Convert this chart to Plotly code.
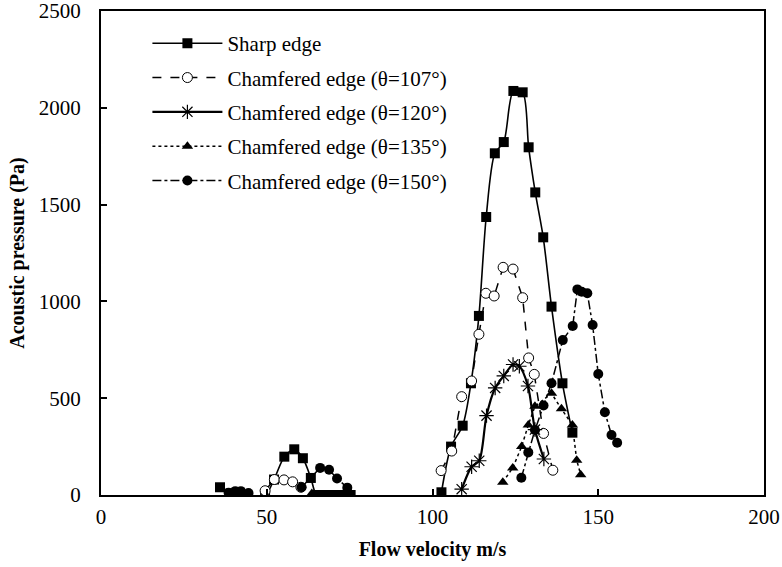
import plotly.graph_objects as go

# ---- data ----
sharp_x = [35.9, 39.0, 41.8, 49.5, 52.2, 55.3, 58.3, 60.9, 63.3, 65.0, 67.0, 69.0, 71.0, 73.0, 75.3,
           None,
           102.7, 105.6, 109.1, 111.6, 114.0, 116.2, 118.8, 121.5, 124.4, 127.2, 129.0, 131.0, 133.4,
           135.9, 139.2, 142.2]
sharp_y = [40, 8, 0, 0, 80, 198, 236, 190, 88, 0, 0, 0, 0, 0, 0,
           None,
           14, 250, 358, 577, 925, 1436, 1765, 1823, 2087, 2080, 1796, 1563, 1331,
           973, 577, 322]

c107_x = [49.5, 52.3, 55.2, 57.8, 60.3,
          None,
          102.6, 105.8, 108.8, 111.8, 114.0, 116.1, 118.6, 121.3, 124.3, 127.2, 129.0, 130.7,
          133.5, 136.3]
c107_y = [22, 80, 78, 68, 40,
          None,
          126, 227, 508, 589, 830, 1042, 1028, 1176, 1167, 1019, 708, 623,
          318, 128]

c120_x = [108.8, 111.8, 114.1, 116.3, 118.9, 121.5, 124.3, 126.2, 128.8, 130.9, 133.6]
c120_y = [30, 146, 177, 410, 553, 615, 674, 665, 563, 338, 186]

c135_x = [63.6,
          None,
          121.2, 124.2, 126.9, 128.9, 130.9, 135.9, 138.9, 142.2, 143.5, 144.7]
c135_y = [8,
          None,
          66, 140, 250, 362, 458, 525, 445, 362, 180, 105]

c150_x = [38.5, 40.5, 42.2, 44.5,
          None,
          60.5, 66.1, 68.8, 71.2, 74.3,
          None,
          126.8, 128.9, 130.9, 133.5, 135.9, 139.3, 142.3, 143.7, 145.0, 146.7, 148.3, 150.0,
          152.0, 154.0, 155.7]
c150_y = [12, 20, 20, 10,
          None,
          40, 140, 130, 85, 38,
          None,
          89, 220, 336, 462, 577, 800, 873, 1062, 1050, 1042, 878, 625,
          427, 310, 270]

names = ["Sharp edge",
         "Chamfered edge (θ=107°)",
         "Chamfered edge (θ=120°)",
         "Chamfered edge (θ=135°)",
         "Chamfered edge (θ=150°)"]

x_ticks = [0, 50, 100, 150, 200]
y_ticks = [0, 500, 1000, 1500, 2000, 2500]

FONT = "Liberation Serif"

fig = go.Figure()

fig.add_trace(go.Scatter(
    x=sharp_x, y=sharp_y, name=names[0], legendgroup="g1", mode="lines+markers",
    line=dict(color="black", width=1.6, shape="spline", smoothing=0.8),
    marker=dict(symbol="square", size=10, color="black"), connectgaps=False))

fig.add_trace(go.Scatter(
    x=c107_x, y=c107_y, name=names[1], legendgroup="g2", mode="lines+markers",
    line=dict(color="black", width=1.5, dash="dash"),
    marker=dict(symbol="circle", size=10, color="white", line=dict(color="black", width=1)),
    connectgaps=False))

fig.add_trace(go.Scatter(
    x=c120_x, y=c120_y, name=names[2], legendgroup="g3", mode="lines+markers",
    line=dict(color="black", width=2.2, shape="spline", smoothing=0.8),
    marker=dict(symbol="asterisk-open", size=12, color="black", line=dict(color="black", width=1.2))))

fig.add_trace(go.Scatter(
    x=c135_x, y=c135_y, name=names[3], legendgroup="g4", mode="lines+markers",
    line=dict(color="black", width=1.5, dash="dot"),
    marker=dict(symbol="triangle-up", size=10, color="black"), connectgaps=False))

fig.add_trace(go.Scatter(
    x=c150_x, y=c150_y, name=names[4], legendgroup="g5", mode="lines+markers",
    line=dict(color="black", width=1.5, dash="dashdot"),
    marker=dict(symbol="circle", size=10, color="black"), connectgaps=False))

axis_common = dict(
    showline=True, linecolor="black", linewidth=2, mirror=True,
    ticks="inside", ticklen=6, tickwidth=1.5, tickcolor="black",
    showgrid=False, zeroline=False, automargin=False,
    ticklabeloverflow="allow",
    tickfont=dict(family=FONT, size=21, color="black"),
)

fig.update_xaxes(
    range=[0, 200], tickvals=x_ticks, ticktext=[str(v) for v in x_ticks],
    ticklabelstandoff=2,
    title=dict(text="<b>Flow velocity m/s</b>", font=dict(family=FONT, size=20, color="black"), standoff=14),
    **axis_common)
fig.update_yaxes(
    range=[0, 2500], tickvals=y_ticks, ticktext=[str(v) for v in y_ticks],
    ticklabelstandoff=14,
    title=dict(text="<b>Acoustic pressure (Pa)</b>", font=dict(family=FONT, size=20, color="black"), standoff=9),
    **axis_common)

fig.update_layout(
    width=782, height=567,
    margin=dict(l=101, r=18, t=11, b=72),
    paper_bgcolor="white", plot_bgcolor="white",
    font=dict(family=FONT, color="black"),
    legend=dict(
        x=0.07, y=0.975, xanchor="left", yanchor="top",
        bgcolor="rgba(0,0,0,0)", borderwidth=0,
        font=dict(family=FONT, size=21, color="black"),
        itemwidth=70, tracegroupgap=4,
    ),
)

fig.write_html("out.html")
